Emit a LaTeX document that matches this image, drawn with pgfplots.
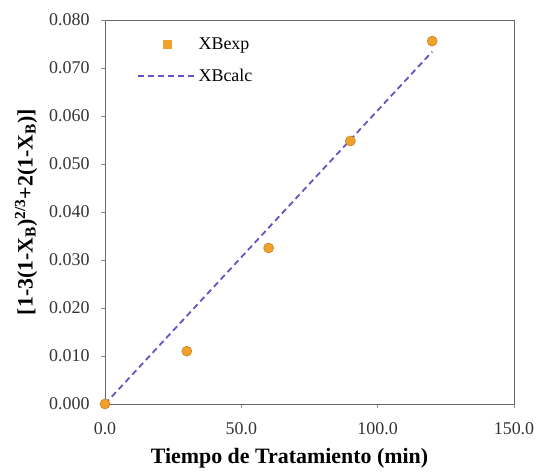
\documentclass[border=0pt]{standalone}
\usepackage{pgfplots}
\pgfplotsset{compat=1.18}
\usepackage{fontspec}
\setmainfont{Liberation Serif}
\definecolor{ptorange}{HTML}{EFA12E}
\definecolor{ptedge}{HTML}{C97A10}
\definecolor{lnpurple}{HTML}{6B4FC4}
\begin{document}
\begin{tikzpicture}
\begin{axis}[
  scale only axis,
  width=409bp, height=384bp,
  xmin=0, xmax=150, ymin=0, ymax=0.08,
  xtick={0,50,100,150},
  ytick={0,0.01,0.02,0.03,0.04,0.05,0.06,0.07,0.08},
  axis line style={draw=black!60, line width=0.9pt},
  tick style={draw=black!45, line width=0.6pt},
  tick align=outside,
  major tick length=4bp,
  xtick pos=bottom, ytick pos=left,
  scaled y ticks=false,
  /pgf/number format/assume math mode=true,
  xticklabel style={yshift=-11bp, /pgf/number format/.cd, fixed, fixed zerofill, precision=1},
  yticklabel style={xshift=-8bp, /pgf/number format/.cd, fixed, fixed zerofill, precision=3},
  ticklabel style={font=\fontsize{18}{20}\selectfont, text=black!80},
  xlabel={\textbf{Tiempo de Tratamiento (min)}},
  ylabel={\textbf{[1-3(1-X\textsubscript{B})\textsuperscript{2/3}+2(1-X\textsubscript{B})]}},
  label style={font=\fontsize{22}{24}\selectfont},
  xlabel style={xshift=-20bp, yshift=-7bp},
  ylabel style={yshift=5bp},
  legend style={draw=none, fill=none, at={(rel axis cs:0.07,0.965)}, anchor=north west,
    font=\fontsize{18}{20}\selectfont, row sep=14bp},
  legend cell align=left,
]
\addplot[only marks, mark=*, mark size=5bp, mark options={fill=ptorange, draw=ptedge, line width=0.5pt},
  legend image code/.code={\path (0bp,0bp) (58bp,0bp); \fill[ptorange] (25bp,-4bp) rectangle (33bp,4bp);}]
  coordinates {(0,0) (30,0.0110) (60,0.0325) (90,0.0548) (120,0.0756)};
\addlegendentry{XBexp}
\addplot[lnpurple, line width=1.8pt, dash pattern=on 6bp off 4bp,
  legend image code/.code={\draw[lnpurple, line width=1.8pt, dash pattern=on 6bp off 4bp] (0bp,0bp) -- (58bp,0bp);}]
  coordinates {(0,0) (120,0.0734)};
\addlegendentry{XBcalc}
\end{axis}
\path ([xshift=-105bp,yshift=-66bp]current axis.south west) rectangle ([xshift=27bp,yshift=20bp]current axis.north east);
\end{tikzpicture}
\end{document}
